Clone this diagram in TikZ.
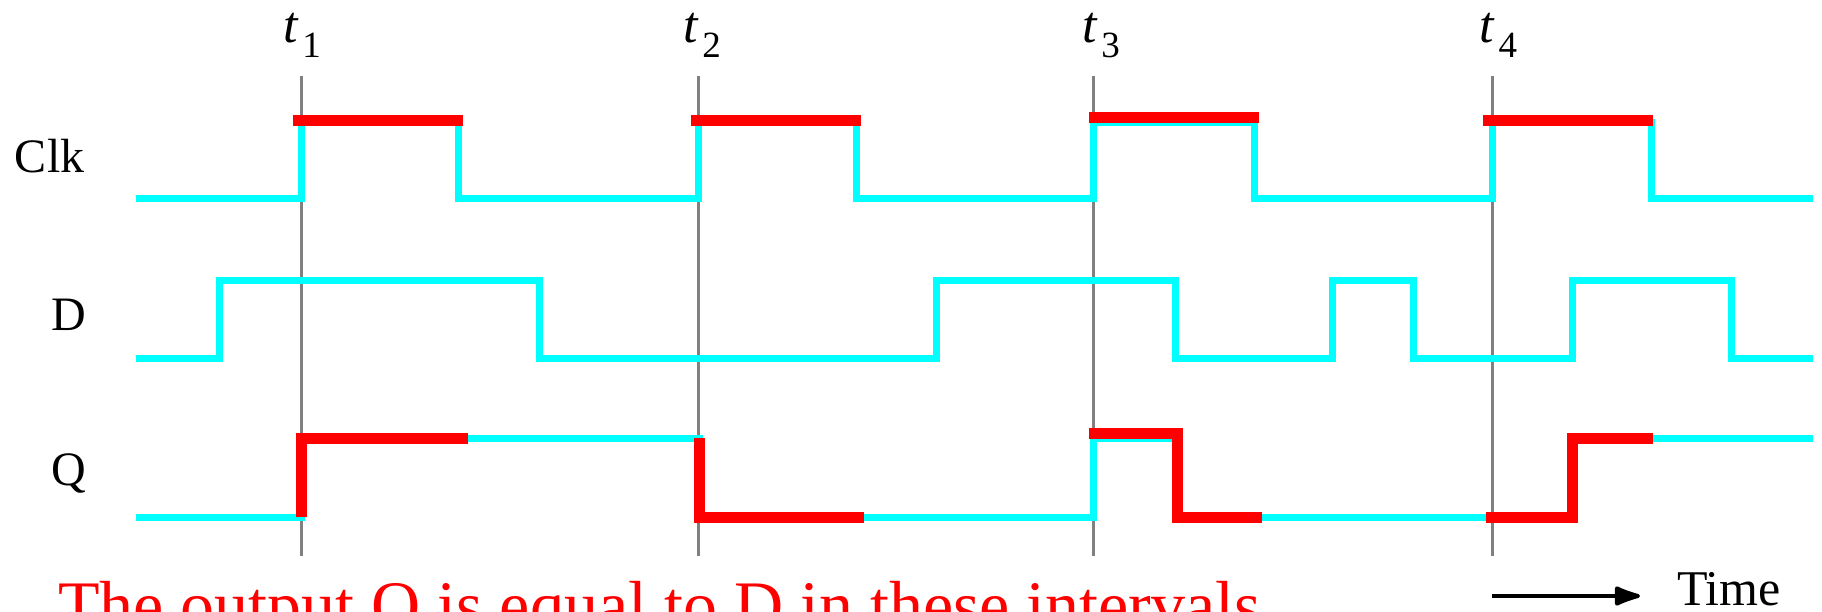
\documentclass[tikz,border=0pt]{standalone}
\usepackage{fontspec}
\setmainfont{Liberation Serif}
\usetikzlibrary{arrows.meta}
\definecolor{wavecyan}{RGB}{0,255,255}
\definecolor{markgray}{RGB}{128,128,128}

\begin{document}
\begin{tikzpicture}[x=0.5pt, y=-0.5pt, every node/.style={inner sep=0pt, outer sep=0pt},
    wave/.style={wavecyan, line width=3.5pt, line join=miter},
    hold/.style={red, line width=5.5pt, line join=miter},
    siglab/.style={font=\fontsize{24}{28}\selectfont, anchor=base west}]
    \useasboundingbox (0,0) rectangle (1822,611);
    \foreach \x/\lx/\n in {301/283/1, 698/683/2, 1093/1082/3, 1492/1479/4} {
        \draw[markgray, line width=1.5pt] (\x,76) -- (\x,556);
        \node[anchor=base west, font=\fontsize{26}{30}\selectfont] (tlab\n) at (\lx,42)
            {\textit{t}\hspace{2pt}\raisebox{-7.5pt}{\fontsize{18.5}{20}\selectfont\n}};
    }
    \node[siglab] (clk) at (15,172) {Clk};
    \node[siglab] (d) at (51,330) {D};
    \node[siglab] (q) at (51,485) {Q};
    \draw[wave] (136,198) -| (301,122) -| (458,198) -| (698,122) -| (856,198) -| (1093,122)
        -| (1254,198) -| (1492,122) -| (1651,198) -- (1813,198);
    \draw[wave] (136,358) -| (219,280) -| (539,358) -| (936,280) -| (1175,358) -| (1332,280)
        -| (1413,358) -| (1572,280) -| (1731,358) -- (1813,358);
    \draw[wave] (136,517) -| (301,438) -| (699,517) -| (1093,438) -| (1177,517) -| (1572,438)
        -- (1813,438);
    \draw[hold] (293,120) -- (463,120) (691,120) -- (861,120) (1089,117) -- (1259,117)
        (1483,120) -- (1653,120);
    \draw[hold] (301,517) |- (468,438);
    \draw[hold] (699,438) |- (864,517);
    \draw[hold] (1089,433) -| (1177,517) -- (1262,517);
    \draw[hold] (1486,517) -| (1572,438) -- (1653,438);
    \node[anchor=base west, text=red, font=\fontsize{34}{40}\selectfont] (note) at (58,628)
        {The output Q is equal to D in these intervals};
    \node[anchor=base west, font=\fontsize{25}{30}\selectfont] (timelab) at (1677,605) {Time};
    \coordinate (tstart) at (1492,596);
    \coordinate (tend) at (1640,596);
    \draw[-{Latex[length=16pt,width=11pt,round]}, line width=2pt] (tstart) -- (tend);
\end{tikzpicture}
\end{document}
